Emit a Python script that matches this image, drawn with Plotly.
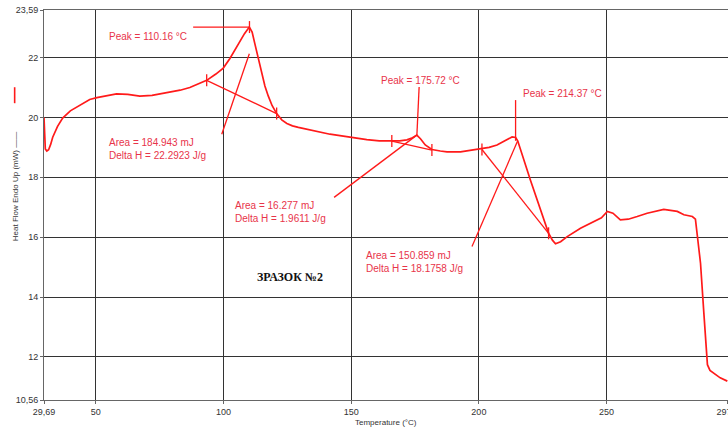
import plotly.graph_objects as go

# ---- data ----
temperature = [29.69, 29.85, 30.2, 30.8, 31.5, 32.3, 33.1, 35.0, 37.0, 40.0, 43.7, 47.6, 50.4, 54.0, 58.1,
               62.5, 67.2, 72.0, 76.0, 80.3, 83.0, 86.8, 90.0, 93.4, 97.0, 99.9, 102.5, 105.8, 108.2, 110.1,
               111.2, 112.3, 113.6, 114.9, 116.2, 117.5, 119.0, 120.8, 122.8, 124.8, 127.0, 129.3, 133.0, 137.0,
               141.7, 145.6, 150.0, 156.1, 161.0, 165.9, 169.0, 171.8, 174.0, 175.7, 177.2, 179.0, 181.6, 184.9,
               187.5, 192.8, 196.6, 201.2, 204.0, 207.1, 210.0, 213.0, 214.4, 215.2, 220.2, 227.3, 228.8, 230.0,
               232.0, 234.6, 239.8, 245.0, 248.0, 250.3, 252.5, 255.4, 258.5, 262.0, 265.9, 272.4, 277.7, 280.3,
               283.6, 284.8, 285.5, 286.8, 288.1, 289.5, 290.5, 292.0, 294.5, 297.3]
heat_flow = [20.0, 19.4, 18.95, 18.88, 18.92, 19.1, 19.34, 19.7, 19.98, 20.22, 20.41, 20.6, 20.66, 20.73, 20.79,
             20.77, 20.71, 20.74, 20.8, 20.86, 20.91, 21.0, 21.12, 21.24, 21.45, 21.65, 21.97, 22.47, 22.8, 23.02,
             22.85, 22.45, 21.95, 21.5, 21.05, 20.72, 20.4, 20.13, 19.92, 19.8, 19.72, 19.67, 19.6, 19.53,
             19.44, 19.39, 19.33, 19.26, 19.22, 19.21, 19.22, 19.25, 19.32, 19.41, 19.28, 19.08, 18.93, 18.88,
             18.85, 18.85, 18.9, 18.94, 19.0, 19.08, 19.2, 19.35, 19.33, 19.22, 17.9, 16.13, 15.9, 15.78,
             15.85, 16.02, 16.3, 16.52, 16.65, 16.86, 16.8, 16.58, 16.6, 16.69, 16.8, 16.93, 16.86, 16.75,
             16.69, 16.6, 16.02, 15.13, 13.47, 11.74, 11.55, 11.45, 11.3, 11.19]

x_tickvals = [29.69, 50, 100, 150, 200, 250, 297.5]
x_ticktext = ["29,69", "50", "100", "150", "200", "250", "297,5"]
y_tickvals = [10.56, 12, 14, 16, 18, 20, 22, 23.59]
y_ticktext = ["10,56", "12", "14", "16", "18", "20", "22", "23,59"]

# peak analyses: baseline start/end, peak point, peak-label line end, area leader line
peak_temps = [110.16, 175.72, 214.37]
peak_vals = [23.02, 19.41, 19.22]
peak_line_end_t = [88.1, 176.6, 214.37]
peak_line_end_v = [23.02, 21.02, 20.58]
base_start_t = [93.4, 165.9, 201.2]
base_start_v = [21.24, 19.21, 18.93]
base_end_t = [120.8, 181.6, 227.3]
base_end_v = [20.13, 18.91, 16.13]
leader_start_t = [99.3, 143.3, 197.3]
leader_start_v = [19.44, 17.33, 15.69]
leader_end_t = [110.1, 175.7, 215.2]
leader_end_v = [22.13, 19.41, 19.22]

peak_labels = ["Peak = 110.16 °C", "Peak = 175.72 °C", "Peak = 214.37 °C"]
peak_label_t = [70.5, 177.1, 216.5]
peak_label_v = [22.71, 21.22, 20.80]
peak_label_anchor = ["center", "center", "left"]

area_labels = ["Area = 184.943 mJ<br>Delta H = 22.2923 J/g",
               "Area = 16.277 mJ<br>Delta H = 1.9611 J/g",
               "Area = 150.859 mJ<br>Delta H = 18.1758 J/g"]
area_label_t = [54.3, 103.8, 155.1]
area_label_v = [18.95, 16.84, 15.16]

sample_label = "ЗРАЗОК №2"
sample_t, sample_v = 126.0, 14.67

RED = "#ff1a1a"
TXT = "#e8344a"
tick_half = 0.2

fig = go.Figure()
fig.add_trace(go.Scatter(x=temperature, y=heat_flow, mode="lines",
                         line=dict(color=RED, width=1.7), hoverinfo="skip"))

for i in range(3):
    segs = [
        ([base_start_t[i], base_end_t[i]], [base_start_v[i], base_end_v[i]]),
        ([leader_start_t[i], leader_end_t[i]], [leader_start_v[i], leader_end_v[i]]),
        ([peak_line_end_t[i], peak_temps[i]], [peak_line_end_v[i], peak_vals[i]]),
        ([base_start_t[i], base_start_t[i]], [base_start_v[i] - tick_half, base_start_v[i] + tick_half]),
        ([base_end_t[i], base_end_t[i]], [base_end_v[i] - tick_half, base_end_v[i] + tick_half]),
    ]
    if i == 0:
        segs.append(([peak_temps[i], peak_temps[i]], [peak_vals[i] - tick_half, peak_vals[i] + tick_half]))
    for xs, ys in segs:
        fig.add_trace(go.Scatter(x=xs, y=ys, mode="lines", line=dict(color=RED, width=1.3),
                                 hoverinfo="skip"))

for i in range(3):
    fig.add_annotation(x=peak_label_t[i], y=peak_label_v[i], text=peak_labels[i], showarrow=False,
                       xanchor=peak_label_anchor[i], yanchor="middle",
                       font=dict(family="Liberation Sans, Arial", size=10, color=TXT))
    fig.add_annotation(x=area_label_t[i], y=area_label_v[i], text=area_labels[i], showarrow=False,
                       xanchor="left", yanchor="middle", align="left",
                       font=dict(family="Liberation Sans, Arial", size=10, color=TXT))

fig.add_annotation(x=sample_t, y=sample_v, text="<b>" + sample_label + "</b>", showarrow=False,
                   font=dict(family="Liberation Serif, Times New Roman", size=12, color="#111"))

# y-axis title with legend dash
fig.add_annotation(xref="paper", yref="paper", x=-0.052, y=0.548, text="Heat Flow Endo Up (mW) ——",
                   textangle=-90, showarrow=False,
                   font=dict(family="Liberation Sans, Arial", size=8, color="#333"))
fig.add_shape(type="line", xref="paper", yref="paper", x0=-0.0429, x1=-0.0429, y0=0.761, y1=0.802,
              line=dict(color=RED, width=1.6))
fig.add_annotation(xref="paper", yref="paper", x=0.5, y=-0.058, text="Temperature (°C)", showarrow=False,
                   yanchor="middle",
                   font=dict(family="Liberation Sans, Arial", size=8, color="#333"))

axis_common = dict(showgrid=True, gridcolor="#333333", gridwidth=1.2, showline=True, linecolor="#666",
                   linewidth=1, mirror=True, zeroline=False, ticks="outside", ticklen=3, tickcolor="#666",
                   tickfont=dict(family="Liberation Sans, Arial", size=9, color="#333"),
                   ticklabeloverflow="allow", automargin=False)
fig.update_xaxes(range=[29.69, 297.56], tickvals=x_tickvals, ticktext=x_ticktext, **axis_common)
fig.update_yaxes(range=[10.56, 23.59], tickvals=y_tickvals, ticktext=y_ticktext, **axis_common)

fig.update_layout(width=728, height=430, margin=dict(l=44, r=0, t=10, b=30, autoexpand=False),
                  plot_bgcolor="white", paper_bgcolor="white", showlegend=False)

fig.write_html("out.html")
